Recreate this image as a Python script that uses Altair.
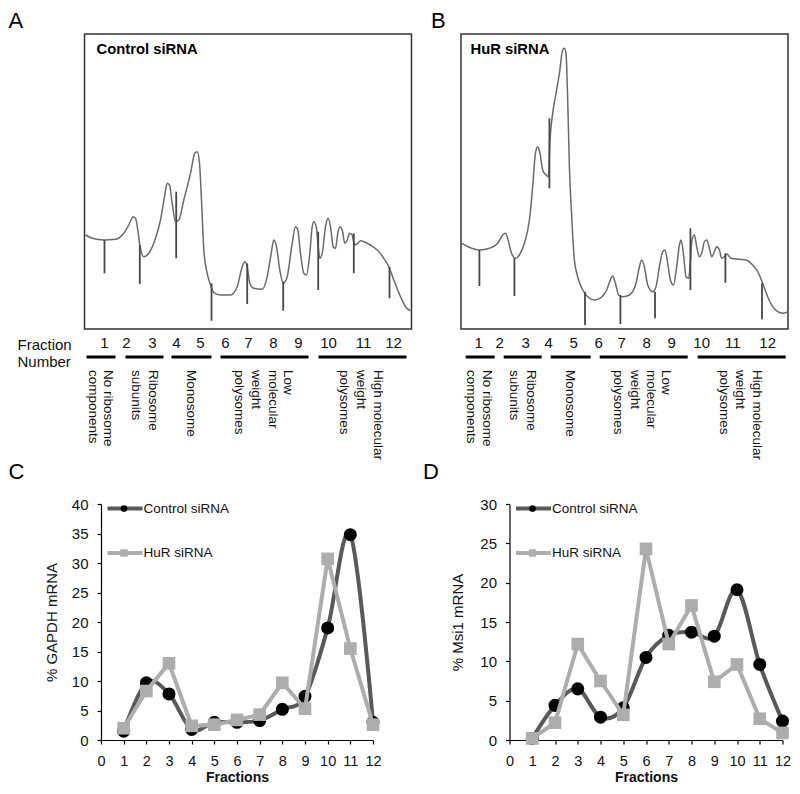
import altair as alt
import pandas as pd

FONT = "Liberation Sans"

# ---------------- Panel A: polysome profile, Control siRNA ----------------
a_pos = [1, 7.7, 19.3, 31, 39.3, 44.3, 48.7, 51, 53.3, 55.3, 59.3, 64.3, 71, 76, 80, 82.7, 85, 87.7,
         91, 94.3, 99.3, 106, 110.3, 112.7, 115, 117, 119.3, 122.7, 126.7, 129.3, 136, 146, 152.7,
         157.7, 160.3, 162.7, 165.3, 169.3, 177.7, 182.7, 186.7, 189.3, 192, 195.3, 198.7, 202.7,
         207.7, 211, 213.3, 216, 219.3, 222, 225.3, 227.7, 229.3, 231.7, 233.7, 235.3, 237.7, 241,
         243.7, 246, 248.7, 251, 253.3, 255.3, 257.7, 260.3, 262.7, 265, 267.7, 270, 273.3, 276,
         279.3, 286, 292.7, 299.3, 304.3, 309.3, 316, 321, 326]
a_abs = [94, 90.7, 89, 89.7, 95.7, 104, 112.3, 110.7, 99, 84, 72.3, 75.7, 90.7, 109, 132.3, 145.7,
         144, 125.7, 107.3, 109, 129, 155.7, 175.7, 177.3, 165.7, 129, 79, 55.7, 42.3, 36.3, 34, 34,
         42.3, 62.3, 67.3, 62.3, 45.7, 40.7, 39.7, 52.3, 75.7, 89, 82.3, 59, 45.7, 52.3, 85.7, 102.3,
         99, 75.7, 55.7, 54, 75.7, 102.3, 107.3, 102.3, 82.3, 70.7, 75.7, 102.3, 110.7, 102.3, 82.3,
         80.7, 95.7, 102.3, 99, 85.7, 89, 95.7, 94, 84, 85.7, 88.3, 87.3, 84, 79, 70.7, 62.3, 49,
         32.3, 22.3, 18.3]
a_cut_pos = [20, 55.3, 91.7, 127, 162.7, 198.7, 233.7, 269.3, 305]
a_cut_top = [89, 84, 137.3, 45.7, 65.7, 47.3, 97.3, 95.7, 62.3]
a_cut_bot = [55.7, 45, 70.7, 8.3, 25, 18.3, 39, 55.7, 30.7]
a_num_pos = [20, 42, 68, 92, 116, 141, 164, 189, 214, 244, 279, 309]
a_bar_start = [2, 41, 87, 136, 234]
a_bar_end = [31, 79, 127, 224, 322]
a_label_pos = [[23, 8], [68, 51], [106], [203, 188, 171, 154], [293, 276, 259]]

# ---------------- Panel B: polysome profile, HuR siRNA ----------------
b_pos = [1, 8.4, 18.4, 28.4, 36.7, 41.7, 44.4, 46.7, 50, 54.4, 58.4, 63.4, 68.4, 71.7, 74.4, 76.7,
         79, 81.7, 85, 87.4, 89, 91.7, 95, 98.4, 101.7, 103.4, 105, 106.7, 108.4, 110.7, 113.4,
         116.7, 121.7, 126.7, 133.4, 140, 145.7, 150, 151.7, 154, 157.7, 161.7, 168.4, 175, 178.4,
         180.7, 183.4, 186.7, 191.7, 195, 198.4, 201.7, 204, 206.7, 209.4, 212.4, 215.7, 218.4, 220,
         222.4, 225, 227.7, 229, 231, 233.4, 235.7, 238.4, 240.7, 243.4, 245.7, 248.4, 250.7, 253.4,
         255.7, 258.4, 260.7, 263.4, 265.7, 270, 278.4, 285, 291.7, 296.7, 301.7, 306.7, 311.7,
         316.7, 321.7, 327]
b_abs = [85.7, 81.7, 79, 80.7, 85.7, 94, 95.7, 90.7, 77.3, 70.7, 74, 85.7, 109, 142.3, 175.7, 182.3,
         175.7, 159, 154, 152.3, 189, 215.7, 235.7, 255.7, 279, 280.7, 275.7, 229, 162.3, 112.3, 69,
         52.3, 39, 32.3, 29, 31.3, 39, 50.7, 53, 47.3, 34, 32.3, 34, 45.7, 62.3, 69, 62.3, 44, 37.3,
         42.3, 62.3, 77.3, 79, 65.7, 49, 44, 62.3, 84, 89, 75.7, 52.3, 50.7, 62.3, 89, 94, 82.3, 72.3,
         75.7, 87.3, 89, 80.7, 72.3, 77.3, 82.3, 79, 70.7, 72.3, 75, 70.7, 69.7, 69, 64, 57.3, 45.7,
         32.3, 22.3, 17.3, 15.7, 17.3]
b_cut_pos = [18.4, 53.4, 88.4, 124, 159.4, 194, 229.4, 264.4, 301]
b_cut_top = [79, 70.7, 210.7, 37.3, 34, 37.3, 100.7, 75.7, 45.7]
b_cut_bot = [43, 33, 140.7, 4, 5, 10.7, 39, 46.3, 9.7]
b_num_pos = [17.7, 38.7, 64.7, 87.7, 112.7, 137.7, 160.7, 185.7, 210.7, 240.7, 271.7, 306.7]
b_bar_start = [4.7, 42.7, 89.7, 138.7, 236.7]
b_bar_end = [33.7, 80.7, 129.7, 226.7, 324.7]
b_label_pos = [[25.7, 9.7], [69.7, 52.7], [108.7], [204.7, 189.7, 173.7, 156.7], [295.7, 278.7, 262.7]]

fraction_numbers = [str(i) for i in range(1, 13)]
group_lines = [["No ribosome", "components"], ["Ribosome", "subunits"], ["Monosome"],
               ["Low", "molecular", "weight", "polysomes"], ["High molecular", "weight", "polysomes"]]

# ---------------- Panels C, D: qPCR distributions ----------------
fractions = list(range(1, 13))
gapdh_control = [1.5, 9.7, 7.8, 1.8, 3.0, 3.0, 3.3, 5.2, 7.4, 19.0, 34.8, 3.0]
gapdh_hur = [2.0, 8.3, 13.0, 2.4, 2.6, 3.4, 4.3, 9.7, 5.3, 30.7, 15.5, 2.6]
msi1_control = [0.2, 4.4, 6.5, 2.9, 4.1, 10.5, 13.3, 13.7, 13.2, 19.1, 9.6, 2.4]
msi1_hur = [0.2, 2.2, 12.2, 7.5, 3.2, 24.3, 12.2, 17.1, 7.4, 9.6, 2.7, 0.9]

CTRL_COLOR = "#595959"
HUR_COLOR = "#adadad"

PW, PH = 327, 295   # profile frame extent (trace units)


def profile(pos, absb, cpos, ctop, cbot, npos, bs, be, lpos, title, title_x,
            letter, letter_x, x_start, fraction_word_x=None):
    xsc = alt.Scale(domain=[x_start, PW], nice=False, zero=False)
    ysc = alt.Scale(domain=[0, PH], nice=False, zero=False)

    def X(f="x"):
        return alt.X(f"{f}:Q", scale=xsc, axis=None)

    def Y(f="y"):
        return alt.Y(f"{f}:Q", scale=ysc, axis=None)

    frame = alt.Chart(pd.DataFrame({"x": [0], "x2": [PW], "y": [0], "y2": [PH]})).mark_rect(
        fillOpacity=0, stroke="#333", strokeWidth=1.5).encode(
        x=X(), x2="x2:Q", y=Y(), y2="y2:Q")
    tr = pd.DataFrame({"x": pos, "y": absb, "o": list(range(len(pos)))})
    trace = alt.Chart(tr).mark_line(color="#6a6a6a", strokeWidth=1.5, interpolate="monotone").encode(
        x=X(), y=Y(), order="o:Q")
    cuts = alt.Chart(pd.DataFrame({"x": cpos, "y": ctop, "y2": cbot})).mark_rule(
        color="#474747", strokeWidth=1.8).encode(x=X(), y=Y(), y2="y2:Q")
    nums = alt.Chart(pd.DataFrame({"x": npos, "t": fraction_numbers})).mark_text(
        font=FONT, fontSize=15, color="#111", align="center", baseline="middle").encode(
        x=X(), y=alt.value(309), text="t:N")
    bars = alt.Chart(pd.DataFrame({"x": bs, "x2": be})).mark_rule(
        color="#000", strokeWidth=3).encode(x=X(), x2="x2:Q", y=alt.value(323))
    rows = []
    for lines, xs_ in zip(group_lines, lpos):
        for t, xv in zip(lines, xs_):
            rows.append({"x": xv, "t": t})
    labels = alt.Chart(pd.DataFrame(rows)).mark_text(
        font=FONT, fontSize=13.5, color="#111", angle=90, align="left", baseline="middle").encode(
        x=X(), y=alt.value(336), text="t:N")
    ttl = alt.Chart(pd.DataFrame({"t": [title]})).mark_text(
        font=FONT, fontSize=14.8, fontWeight="bold", color="#000", align="left",
        baseline="middle").encode(x=alt.value(title_x), y=alt.value(16), text="t:N")
    let = alt.Chart(pd.DataFrame({"t": [letter]})).mark_text(
        font=FONT, fontSize=22, color="#000", align="left", baseline="top").encode(
        x=alt.value(letter_x), y=alt.value(-23), text="t:N")
    layers = [frame, trace, cuts, nums, bars, labels, ttl, let]
    if fraction_word_x is not None:
        for word, yy in (("Fraction", 311), ("Number", 328)):
            layers.append(alt.Chart(pd.DataFrame({"t": [word]})).mark_text(
                font=FONT, fontSize=15, color="#111", align="left", baseline="middle").encode(
                x=alt.value(fraction_word_x), y=alt.value(yy), text="t:N"))
    return alt.layer(*layers).properties(width=PW - x_start, height=PH)


def lineplot(ctrl, hur, ymax, ytitle, width, letter, letter_x, tpad):
    df = pd.DataFrame({"f": fractions, "c": ctrl, "h": hur})
    X = alt.X("f:Q", scale=alt.Scale(domain=[0, 12], nice=False, zero=False),
              axis=alt.Axis(values=list(range(13)), format="d", title="Fractions",
                            titleFontWeight="bold", titleFontSize=14, titlePadding=3,
                            labelFontSize=14.5, labelPadding=10, tickSize=4,
                            labelOverlap=False, labelFlush=False))
    yax = alt.Axis(values=list(range(0, ymax + 1, 5)), format="d", title=ytitle,
                   titleFontWeight="normal", titleFontSize=15, titlePadding=tpad,
                   labelFontSize=15, labelPadding=9, tickSize=4, labelOverlap=False,
                   labelFlush=False)
    ysc = alt.Scale(domain=[0, ymax], nice=False)
    c_line = alt.Chart(df).mark_line(color=CTRL_COLOR, strokeWidth=4, interpolate="cardinal").encode(
        x=X, y=alt.Y("c:Q", scale=ysc, axis=yax))
    c_pts = alt.Chart(df).mark_point(shape="circle", filled=True, color="#000", size=170,
                                     opacity=1).encode(x=X, y=alt.Y("c:Q", scale=ysc, axis=yax))
    h_line = alt.Chart(df).mark_line(color=HUR_COLOR, strokeWidth=4).encode(
        x=X, y=alt.Y("h:Q", scale=ysc, axis=yax))
    h_pts = alt.Chart(df).mark_point(shape="square", filled=True, color=HUR_COLOR, size=160,
                                     opacity=1).encode(x=X, y=alt.Y("h:Q", scale=ysc, axis=yax))
    one = pd.DataFrame({"t": ["Control siRNA"]})
    two = pd.DataFrame({"t": ["HuR siRNA"]})
    lg = [
        alt.Chart(one).mark_rule(color=CTRL_COLOR, strokeWidth=4).encode(
            x=alt.value(6.5), x2=alt.value(41.5), y=alt.value(4.5)),
        alt.Chart(one).mark_point(shape="circle", filled=True, color="#000", size=45, opacity=1).encode(
            x=alt.value(23), y=alt.value(4.5)),
        alt.Chart(one).mark_text(font=FONT, fontSize=13.5, align="left", baseline="middle",
                                 color="#111").encode(x=alt.value(42.5), y=alt.value(4.5), text="t:N"),
        alt.Chart(two).mark_rule(color=HUR_COLOR, strokeWidth=4).encode(
            x=alt.value(6.5), x2=alt.value(41.5), y=alt.value(49)),
        alt.Chart(two).mark_point(shape="square", filled=True, color=HUR_COLOR, size=55, opacity=1).encode(
            x=alt.value(23), y=alt.value(49)),
        alt.Chart(two).mark_text(font=FONT, fontSize=13.5, align="left", baseline="middle",
                                 color="#111").encode(x=alt.value(42.5), y=alt.value(49), text="t:N"),
    ]
    let = alt.Chart(pd.DataFrame({"t": [letter]})).mark_text(
        font=FONT, fontSize=22, color="#000", align="left", baseline="top").encode(
        x=alt.value(letter_x), y=alt.value(-42), text="t:N")
    return alt.layer(c_line, c_pts, h_line, h_pts, *lg, let).properties(width=width, height=236)


A_START = 16.5
panel_a = profile(a_pos, a_abs, a_cut_pos, a_cut_top, a_cut_bot, a_num_pos, a_bar_start, a_bar_end,
                  a_label_pos, "Control siRNA", -4.5, "A", -92.5, A_START, fraction_word_x=-83.5)
panel_b = profile(b_pos, b_abs, b_cut_pos, b_cut_top, b_cut_bot, b_num_pos, b_bar_start, b_bar_end,
                  b_label_pos, "HuR siRNA", 9.5, "B", -30, 0)
panel_c = lineplot(gapdh_control, gapdh_hur, 40, "% GAPDH mRNA", 272, "C", -92.5, 12)
panel_d = lineplot(msi1_control, msi1_hur, 30, "% Msi1 mRNA", 273, "D", -86.5, 14)

row1 = alt.hconcat(panel_a, panel_b, spacing=17)
row2 = alt.hconcat(panel_c, panel_d, spacing=40.5)

chart = alt.vconcat(row1, row2, spacing=0).properties(
    padding={"left": 0, "top": 2, "right": 0, "bottom": 0}
).configure_view(stroke=None).configure_axis(
    grid=False, domainColor="#000", domainWidth=1.2, tickColor="#000", tickWidth=1.2,
    labelFont=FONT, titleFont=FONT, labelColor="#111", titleColor="#111"
).configure_text(font=FONT)

chart.save("out.html", embed_options={"renderer": "svg", "actions": False})
